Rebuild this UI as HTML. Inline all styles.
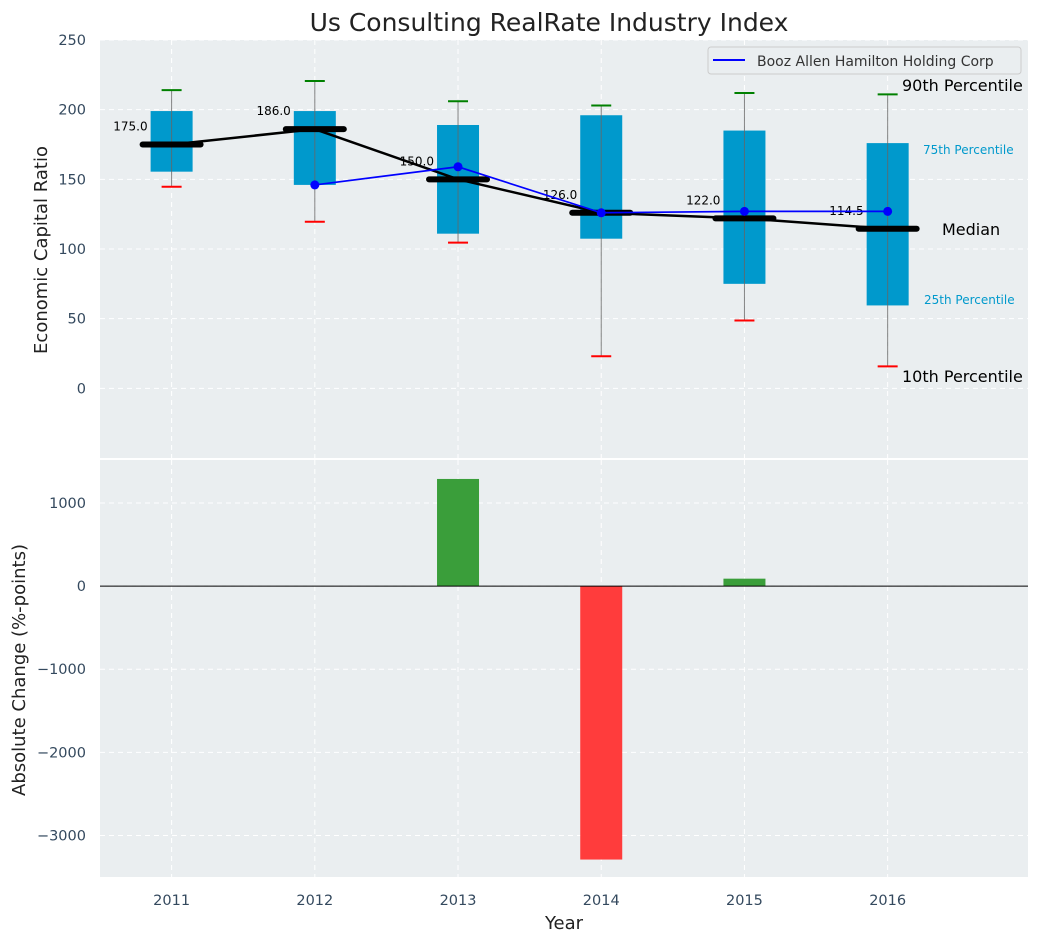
<!DOCTYPE html>
<html><head><meta charset="utf-8"><style>
body{margin:0;background:#fff;}
svg{display:block;font-family:"DejaVu Sans","Liberation Sans",sans-serif;}
</style></head><body>
<svg id="c" width="1039" height="942" xmlns="http://www.w3.org/2000/svg"></svg>
<script>
const years=[2011,2012,2013,2014,2015,2016];
const p10=[144.7,119.6,104.6,23,48.7,15.8];
const q1=[155.5,146,111,107.4,75,59.5];
const med=[175,186,150,126,122,114.5];
const q3=[199,199,189,196,185,176];
const p90=[214,220.6,206,203,212,211];
const companyYears=[2012,2013,2014,2015,2016];
const companyVals=[146,159,126,127,127];
const changeYears=[2013,2014,2015];
const changeVals=[1290,-3290,90];
const topTicks=[0,50,100,150,200,250];
const botTicks=[-3000,-2000,-1000,0,1000];

const NS="http://www.w3.org/2000/svg";
const svg=document.getElementById('c');
function el(tag,attrs,parent){const e=document.createElementNS(NS,tag);for(const k in attrs)e.setAttribute(k,attrs[k]);(parent||svg).appendChild(e);return e;}
const L=100,R=1028;
const x=v=>L+(v-2010.5)/(2016.98-2010.5)*(R-L);
const T0=40,T1=458; const yt=v=>T1-(v+50)/300*(T1-T0);
const B0=460,B1=877; const yb=v=>B1-(v+3500)/(1518+3500)*(B1-B0);

let bg=el('rect',{x:L,y:T0,width:R-L,height:T1-T0,fill:'#eaeef0'});


let bg2=el('rect',{x:L,y:B0,width:R-L,height:B1-B0,fill:'#eaeef0'});



years.forEach(yv=>{
 el('line',{x1:x(yv),x2:x(yv),y1:T0,y2:T1,stroke:'#fff','stroke-dasharray':'5,4','stroke-width':1});
 el('line',{x1:x(yv),x2:x(yv),y1:B0,y2:B1,stroke:'#fff','stroke-dasharray':'5,4','stroke-width':1});
 let t=el('text',{x:x(yv),y:905,'text-anchor':'middle','font-size':14.5,fill:'#34495e'});t.textContent=yv;
 
 
});
topTicks.forEach(v=>{
 el('line',{x1:L,x2:R,y1:yt(v),y2:yt(v),stroke:'#fff','stroke-dasharray':'5,4'});
 let t=el('text',{x:86,y:yt(v)+5,'text-anchor':'end','font-size':14.5,fill:'#34495e'});t.textContent=v;
 
 
});
botTicks.forEach(v=>{
 el('line',{x1:L,x2:R,y1:yb(v),y2:yb(v),stroke:'#fff','stroke-dasharray':'5,4'});
 let t=el('text',{x:86,y:yb(v)+5,'text-anchor':'end','font-size':14.5,fill:'#34495e'});t.textContent=(v<0?'\u2212'+(-v):v);
 
 
});

years.forEach((yv,i)=>{
 const cx=x(yv);
 let b=el('rect',{x:cx-21,y:yt(q3[i]),width:42,height:yt(q1[i])-yt(q3[i]),fill:'#0099cc'});
 
 
 el('line',{x1:cx,x2:cx,y1:yt(p90[i]),y2:yt(p10[i]),stroke:'#666','stroke-width':1,opacity:0.8});
 el('line',{x1:cx-10,x2:cx+10,y1:yt(p90[i]),y2:yt(p90[i]),stroke:'green','stroke-width':2});
 el('line',{x1:cx-10,x2:cx+10,y1:yt(p10[i]),y2:yt(p10[i]),stroke:'red','stroke-width':2});
});
let mp=years.map((yv,i)=>x(yv)+','+yt(med[i])).join(' ');
let ml=el('polyline',{points:mp,fill:'none',stroke:'#000','stroke-width':2.5});


years.forEach((yv,i)=>{
 const cx=x(yv);
 el('line',{x1:cx-29,x2:cx+29,y1:yt(med[i]),y2:yt(med[i]),stroke:'#000','stroke-width':6,'stroke-linecap':'round'});
 let t=el('text',{x:cx-24,y:yt(med[i])-14,'text-anchor':'end','font-size':12,fill:'#000'});t.textContent=med[i].toFixed(1);
 
 
});
let cp=companyYears.map((yv,i)=>x(yv)+','+yt(companyVals[i])).join(' ');
let cl=el('polyline',{points:cp,fill:'none',stroke:'blue','stroke-width':1.7});


companyYears.forEach((yv,i)=>{let c=el('circle',{cx:x(yv),cy:yt(companyVals[i]),r:4.5,fill:'blue'});
 
 });

const ann=[['90th Percentile',902,91,16,'#000'],['75th Percentile',923,154,12,'#0099cc'],['Median',942,235,16,'#000'],['25th Percentile',924,304,12,'#0099cc'],['10th Percentile',902,382,16,'#000']];
ann.forEach(a=>{let t=el('text',{x:a[1],y:a[2],'font-size':a[3],fill:a[4]});t.textContent=a[0];
 
 });

let lg=el('g',{});


el('rect',{x:708,y:47,width:313,height:27,rx:3,fill:'#eaeef0',stroke:'#ccc'},lg);
el('line',{x1:713,x2:745,y1:60,y2:60,stroke:'blue','stroke-width':2},lg);
let lt=el('text',{x:757,y:66,'font-size':14,fill:'#333'},lg);lt.textContent='Booz Allen Hamilton Holding Corp';

changeYears.forEach((yv,i)=>{
 const v=changeVals[i];
 let r=el('rect',{x:x(yv)-21,y:Math.min(yb(v),yb(0)),width:42,height:Math.abs(yb(v)-yb(0)),fill:v>=0?'#3a9e3a':'#ff3c3c'});
 
 
});
el('line',{x1:L,x2:R,y1:yb(0),y2:yb(0),stroke:'#000','stroke-width':1});

let ti=el('text',{x:549,y:31,'text-anchor':'middle','font-size':25,fill:'#222'});ti.textContent='Us Consulting RealRate Industry Index';


let ya=el('text',{x:0,y:0,'text-anchor':'middle','font-size':18,fill:'#222',transform:'translate(47,250) rotate(-90)'});ya.textContent='Economic Capital Ratio';


let yb2=el('text',{x:0,y:0,'text-anchor':'middle','font-size':18,fill:'#222',transform:'translate(25,670) rotate(-90)'});yb2.textContent='Absolute Change (%-points)';


let xa=el('text',{x:564,y:929,'text-anchor':'middle','font-size':18,fill:'#222'});xa.textContent='Year';


</script>
</body></html>
